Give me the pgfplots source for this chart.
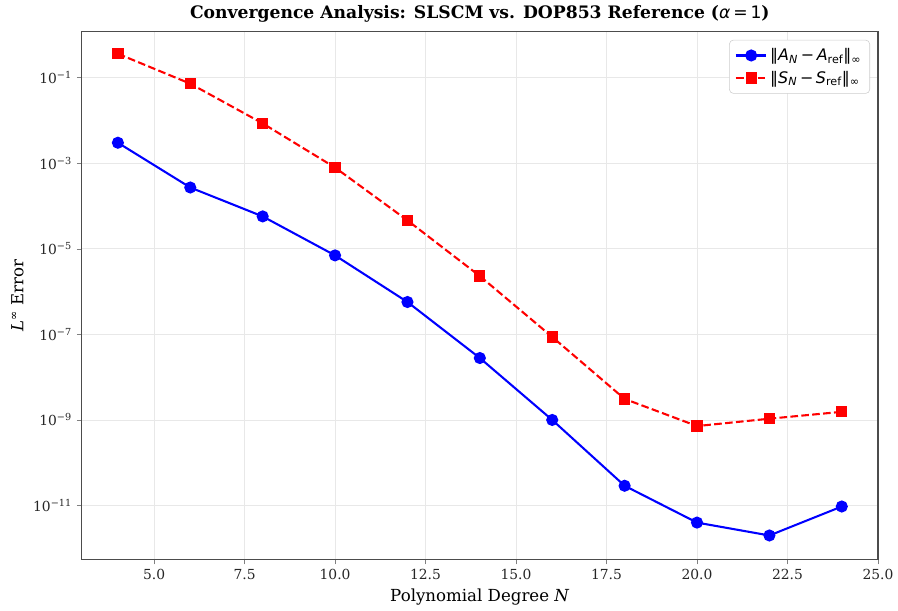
\documentclass[border=0pt]{standalone}
\usepackage{fontspec}
\setmainfont{DejaVu Serif}
\newfontfamily\dvs{DejaVu Sans}
\usepackage{pgfplots}
\pgfplotsset{compat=1.18}
\begin{document}
\begin{tikzpicture}
\begin{axis}[
  scale only axis,
  width=575pt, height=381pt,
  ymode=log,
  xmin=3, xmax=25,
  ymin=5.5e-13, ymax=1.17,
  xtick={5,7.5,10,12.5,15,17.5,20,22.5,25},
  xticklabel style={/pgf/number format/fixed, /pgf/number format/fixed zerofill, /pgf/number format/precision=1},
  /pgf/number format/assume math mode=true,
  ytick={1e-1,1e-3,1e-5,1e-7,1e-9,1e-11},
  yticklabels={10\textsuperscript{−1},10\textsuperscript{−3},10\textsuperscript{−5},10\textsuperscript{−7},10\textsuperscript{−9},10\textsuperscript{−11}},
  minor tick style={draw=none},
  tick align=outside, tick pos=left,
  major tick length=3.5pt,
  tick label style={font=\fontsize{10}{12}\selectfont, color=black!85},
  grid=major,
  major grid style={gray!18, line width=0.6pt},
  axis line style={black!70, line width=0.8pt},
  xlabel={Polynomial Degree \textit{N}},
  ylabel={\textit{L}\textsuperscript{∞} Error},
  label style={font=\fontsize{12}{14}\selectfont},
  title={\textbf{Convergence Analysis: SLSCM vs. DOP853 Reference (}{\dvs\textit{α}\,=\,1}\textbf{)}},
  title style={font=\fontsize{12.4}{15}\selectfont, yshift=-3pt},
  legend style={at={(0.99,0.985)}, anchor=north east, draw=black!20, rounded corners=3pt, font=\dvs\fontsize{11.5}{14}\selectfont, row sep=2pt, inner xsep=4pt, inner ysep=4pt},
  legend image code/.code={\draw[#1] (0pt,0pt) -- (22pt,0pt); \draw[#1, mark repeat=2, mark phase=2] plot coordinates {(0pt,0pt) (11pt,0pt) (22pt,0pt)};},
  legend cell align=left,
]
\addplot[blue, line width=1.5pt, mark=*, mark size=3.6pt, mark options={solid}] coordinates {
(4,3e-3) (6,2.7e-4) (8,5.7e-5) (10,7e-6) (12,5.7e-7) (14,2.8e-8) (16,1e-9) (18,2.9e-11) (20,4e-12) (22,2e-12) (24,9.5e-12)
};
\addlegendentry{‖\textit{A}\textsubscript{\textit{N}}\,−\,\textit{A}\textsubscript{ref}‖\textsubscript{∞}}
\addplot[red, line width=1.5pt, dash pattern=on 5.5pt off 2.4pt, mark=square*, mark size=3.3pt, mark options={solid}] coordinates {
(4,0.36) (6,0.072) (8,8.5e-3) (10,7.9e-4) (12,4.6e-5) (14,2.3e-6) (16,8.7e-8) (18,3.1e-9) (20,7.2e-10) (22,1.07e-9) (24,1.55e-9)
};
\addlegendentry{‖\textit{S}\textsubscript{\textit{N}}\,−\,\textit{S}\textsubscript{ref}‖\textsubscript{∞}}
\end{axis}
\path ([shift={(-59pt,-32pt)}]current axis.south west) rectangle ([shift={(12pt,23pt)}]current axis.north east);
\end{tikzpicture}
\end{document}
